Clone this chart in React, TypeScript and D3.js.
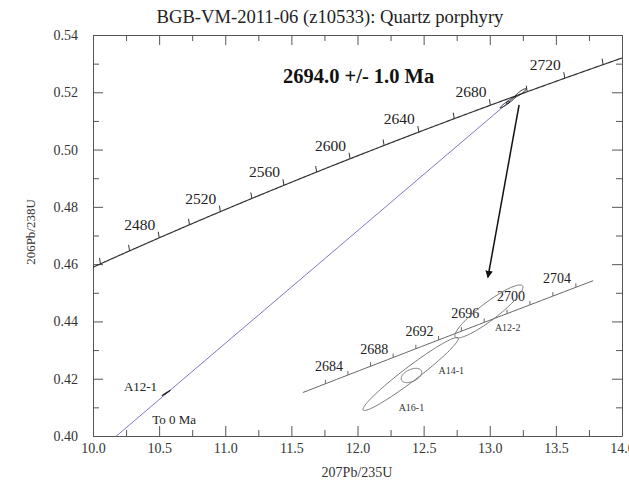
import React, { useEffect, useRef } from "react";
import * as d3 from "d3";

// decay constants, per Ma
const L235 = 9.8485e-4;
const L238 = 1.55125e-4;
const r75 = (t: number) => Math.exp(L235 * t) - 1;
const r68 = (t: number) => Math.exp(L238 * t) - 1;

const title = "BGB-VM-2011-06 (z10533): Quartz porphyry";
const ageText = "2694.0 +/- 1.0 Ma";
const upperIntercept = 2694.0;
const lowerIntercept = 0;

const mainAgeTicks = [2440, 2460, 2480, 2500, 2520, 2540, 2560, 2580, 2600, 2620, 2640, 2660, 2680, 2700, 2720, 2740];
const mainAgeLabels = [2480, 2520, 2560, 2600, 2640, 2680, 2720];
const insetAgeTicks = [2682, 2684, 2686, 2688, 2690, 2692, 2694, 2696, 2698, 2700, 2702, 2704];
const insetAgeLabels = [2684, 2688, 2692, 2696, 2700, 2704];

// analyses near the upper intercept (207/235, 206/238, half-extents, rho)
const grainNames = ["A12-2", "A14-1", "A16-1"];
const grainX = [13.233, 13.138, 13.137];
const grainY = [0.51984, 0.5164, 0.51648];
const grainSx = [0.0417, 0.0126, 0.0585];
const grainSy = [0.001423, 0.000384, 0.00196];
const grainRho = [0.912, 0.44, 0.969];

// discordant analysis near lower left
const outlierName = "A12-1";
const outlierX = 10.553;
const outlierY = 0.415;
const outlierSx = 0.032;
const outlierSy = 0.00095;
const outlierRho = 0.985;

const xMajor = [10, 10.5, 11, 11.5, 12, 12.5, 13, 13.5, 14];
const xMinor = [10.25, 10.75, 11.25, 11.75, 12.25, 12.75, 13.25, 13.75];
const yMajor = [0.4, 0.42, 0.44, 0.46, 0.48, 0.5, 0.52, 0.54];
const yMinor = [0.41, 0.43, 0.45, 0.47, 0.49, 0.51, 0.53];

// label offsets for grain names in the inset (px from ellipse centre)
const grainLabelOffset = [[6, 20], [27, -1], [-12, 37]];

const font = "'Liberation Serif', 'Times New Roman', serif";

function ellipsePoints(cx: number, cy: number, sx: number, sy: number, rho: number): [number, number][] {
  const k = Math.sqrt(1 - rho * rho);
  return d3.range(0, 2 * Math.PI, Math.PI / 60).map((a) => {
    const u = Math.cos(a), v = Math.sin(a);
    return [cx + sx * u, cy + sy * (rho * u + k * v)];
  });
}

const App = () => {
  const ref = useRef<SVGSVGElement>(null);

  useEffect(() => {
    const svg = d3.select(ref.current);
    svg.selectAll("*").remove();

    const x = d3.scaleLinear().domain([10, 14]).range([93, 622]);
    const y = d3.scaleLinear().domain([0.4, 0.54]).range([436, 35]);
    // magnified view of the intercept region
    const xi = d3.scaleLinear().domain([13.0, 13.4]).range([299, 625]);
    const yi = d3.scaleLinear().domain([0.512, 0.524]).range([457.4, 234]);

    const defs = svg.append("defs");
    defs.append("clipPath").attr("id", "plotclip")
      .append("rect").attr("x", 93).attr("y", 35).attr("width", 529).attr("height", 401);
    defs.append("marker").attr("id", "arrowhead")
      .attr("viewBox", "0 0 10 10").attr("refX", 9).attr("refY", 5)
      .attr("markerWidth", 5).attr("markerHeight", 5).attr("orient", "auto")
      .append("path").attr("d", "M0,0 L10,5 L0,10 z").attr("fill", "#111");

    svg.append("text")
      .attr("x", 330).attr("y", 23).attr("text-anchor", "middle")
      .attr("font-family", font).attr("font-size", 18.6).attr("fill", "#222")
      .text(title);

    const styleAxis = (g: any) => {
      g.selectAll("path, line").attr("stroke", "#555");
      g.selectAll("text").attr("fill", "#333").attr("font-family", font).attr("font-size", 14);
    };
    const noLabel = () => "";

    svg.append("g").attr("transform", "translate(0,436)")
      .call(d3.axisBottom(x).tickValues(xMajor).tickSize(-10).tickSizeOuter(0).tickPadding(7).tickFormat(d3.format(".1f")))
      .call(styleAxis);
    svg.append("g").attr("transform", "translate(0,436)")
      .call(d3.axisBottom(x).tickValues(xMinor).tickSize(-6).tickFormat(noLabel))
      .call((g: any) => g.select(".domain").remove()).call(styleAxis);
    svg.append("g").attr("transform", "translate(0,35)")
      .call(d3.axisTop(x).tickValues(xMajor).tickSize(-10).tickSizeOuter(0).tickFormat(noLabel))
      .call(styleAxis);
    svg.append("g").attr("transform", "translate(0,35)")
      .call(d3.axisTop(x).tickValues(xMinor).tickSize(-6).tickFormat(noLabel))
      .call((g: any) => g.select(".domain").remove()).call(styleAxis);
    svg.append("g").attr("transform", "translate(93,0)")
      .call(d3.axisLeft(y).tickValues(yMajor).tickSize(-10).tickSizeOuter(0).tickPadding(15).tickFormat(d3.format(".2f")))
      .call(styleAxis);
    svg.append("g").attr("transform", "translate(93,0)")
      .call(d3.axisLeft(y).tickValues(yMinor).tickSize(-6).tickFormat(noLabel))
      .call((g: any) => g.select(".domain").remove()).call(styleAxis);
    svg.append("g").attr("transform", "translate(622,0)")
      .call(d3.axisRight(y).tickValues(yMajor).tickSize(-10).tickSizeOuter(0).tickFormat(noLabel))
      .call(styleAxis);
    svg.append("g").attr("transform", "translate(622,0)")
      .call(d3.axisRight(y).tickValues(yMinor).tickSize(-6).tickFormat(noLabel))
      .call((g: any) => g.select(".domain").remove()).call(styleAxis);

    svg.append("text")
      .attr("x", 357).attr("y", 477).attr("text-anchor", "middle")
      .attr("font-family", font).attr("font-size", 14).attr("fill", "#333")
      .text("207Pb/235U");
    svg.append("text")
      .attr("transform", "translate(35,232) rotate(-90)").attr("text-anchor", "middle")
      .attr("font-family", font).attr("font-size", 13).attr("fill", "#333")
      .text("206Pb/238U");

    const plot = svg.append("g").attr("clip-path", "url(#plotclip)");

    // discordia
    plot.append("line")
      .attr("x1", x(r75(lowerIntercept))).attr("y1", y(r68(lowerIntercept)))
      .attr("x2", x(r75(upperIntercept))).attr("y2", y(r68(upperIntercept)))
      .attr("stroke", "#7a7ac0").attr("stroke-width", 1);

    // concordia
    const mainLine = d3.line<number>().x((t) => x(r75(t))).y((t) => y(r68(t)));
    plot.append("path")
      .datum(d3.range(2430, 2752, 1))
      .attr("d", mainLine).attr("fill", "none").attr("stroke", "#333").attr("stroke-width", 1.2);

    plot.selectAll(".ctick").data(mainAgeTicks).enter().append("line")
      .attr("x1", (t) => x(r75(t))).attr("y1", (t) => y(r68(t)))
      .attr("x2", (t) => x(r75(t)) - 1).attr("y2", (t) => y(r68(t)) - 6)
      .attr("stroke", "#333").attr("stroke-width", 1);

    svg.selectAll(".clabel").data(mainAgeLabels).enter().append("text")
      .attr("x", (t) => x(r75(t)) - 4).attr("y", (t) => y(r68(t)) - 8)
      .attr("text-anchor", "end").attr("font-family", font).attr("font-size", 15.5).attr("fill", "#222")
      .text((t) => t);

    // small ellipses at the intercept
    const ell = d3.line<[number, number]>().curve(d3.curveLinearClosed);
    grainNames.forEach((_, i) => {
      const pts = ellipsePoints(grainX[i], grainY[i], grainSx[i], grainSy[i], grainRho[i])
        .map(([a, b]) => [x(a), y(b)] as [number, number]);
      plot.append("path").attr("d", ell(pts)).attr("fill", "none").attr("stroke", "#111").attr("stroke-width", 1);
    });

    // A12-1
    const opts = ellipsePoints(outlierX, outlierY, outlierSx, outlierSy, outlierRho)
      .map(([a, b]) => [x(a), y(b)] as [number, number]);
    plot.append("path").attr("d", ell(opts)).attr("fill", "#111").attr("stroke", "#111").attr("stroke-width", 0.8);
    svg.append("text")
      .attr("x", x(outlierX) - 9).attr("y", y(outlierY) - 2).attr("text-anchor", "end")
      .attr("font-family", font).attr("font-size", 13).attr("fill", "#222").text(outlierName);
    svg.append("text")
      .attr("x", x(outlierX) - 14).attr("y", y(outlierY) + 31)
      .attr("font-family", font).attr("font-size", 13).attr("fill", "#222").text("To 0 Ma");

    svg.append("text")
      .attr("x", 283).attr("y", 83)
      .attr("font-family", font).attr("font-size", 20.5).attr("font-weight", "bold").attr("fill", "#111")
      .text(ageText);

    // arrow to the inset
    svg.append("line")
      .attr("x1", x(r75(upperIntercept)) + 3).attr("y1", y(r68(upperIntercept)) + 9)
      .attr("x2", xi(grainX[0]) - 1).attr("y2", yi(grainY[0]) - 34)
      .attr("stroke", "#111").attr("stroke-width", 1.5).attr("marker-end", "url(#arrowhead)");

    // inset concordia
    const insetLine = d3.line<number>().x((t) => xi(r75(t))).y((t) => yi(r68(t)));
    svg.append("path")
      .datum(d3.range(2680, 2705.6, 0.5))
      .attr("d", insetLine).attr("fill", "none").attr("stroke", "#666").attr("stroke-width", 1);
    svg.selectAll(".itick").data(insetAgeTicks).enter().append("line")
      .attr("x1", (t) => xi(r75(t))).attr("y1", (t) => yi(r68(t)))
      .attr("x2", (t) => xi(r75(t))).attr("y2", (t) => yi(r68(t)) - 4)
      .attr("stroke", "#666").attr("stroke-width", 1);
    svg.selectAll(".ilabel").data(insetAgeLabels).enter().append("text")
      .attr("x", (t) => xi(r75(t)) - 5).attr("y", (t) => yi(r68(t)) - 4)
      .attr("text-anchor", "end").attr("font-family", font).attr("font-size", 14).attr("fill", "#222")
      .text((t) => t);

    grainNames.forEach((name, i) => {
      const pts = ellipsePoints(grainX[i], grainY[i], grainSx[i], grainSy[i], grainRho[i])
        .map(([a, b]) => [xi(a), yi(b)] as [number, number]);
      svg.append("path").attr("d", ell(pts)).attr("fill", "none").attr("stroke", "#777").attr("stroke-width", 1);
      svg.append("text")
        .attr("x", xi(grainX[i]) + grainLabelOffset[i][0]).attr("y", yi(grainY[i]) + grainLabelOffset[i][1])
        .attr("font-family", font).attr("font-size", 10).attr("fill", "#333").text(name);
    });
  }, []);

  return (
    <svg ref={ref} width={629} height={486}
      style={{ position: "absolute", left: 0, top: 0, background: "#fff" }} />
  );
};

export default App;
